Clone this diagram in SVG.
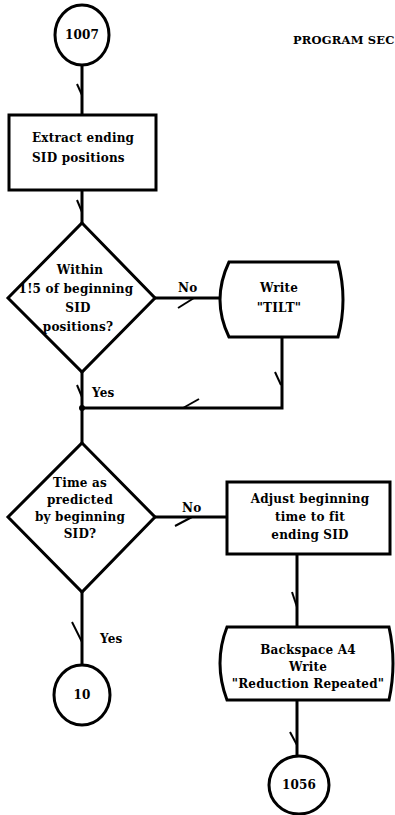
<svg xmlns="http://www.w3.org/2000/svg" width="395" height="815" viewBox="0 0 395 815">
<style>
.s{fill:#fff;stroke:#000;stroke-width:3}
.c{fill:none;stroke:#000;stroke-width:3}
.b{fill:none;stroke:#000;stroke-width:2}
text{font-family:"DejaVu Serif","Liberation Serif",serif;font-weight:bold;font-size:12px;letter-spacing:0.2px;fill:#000}
.m{text-anchor:middle}
</style>
<rect width="395" height="815" fill="#fff"/>
<text x="293" y="44" style="font-size:11.5px">PROGRAM SEC</text>
<g id="connectors">
<path class="c" d="M82,65 V115"/><path class="b" d="M77,84 L82,95"/>
<path class="c" d="M82,190 V223"/><path class="b" d="M77,200 L82,212"/>
<path class="c" d="M155,298 H220"/><path class="b" d="M178,308 L194,298"/>
<path class="c" d="M282,337 V408 H82"/><path class="b" d="M275,372 L281,385"/><path class="b" d="M183,408 L199,399"/>
<path class="c" d="M82,372 V443"/><path class="b" d="M77,385 L82,397"/>
<circle cx="82" cy="408" r="3"/>
<path class="c" d="M155,517 H227"/><path class="b" d="M175,526 L192,517"/>
<path class="c" d="M297,554 V627"/><path class="b" d="M292,592 L297,607"/>
<path class="c" d="M297,700 V755"/><path class="b" d="M290,732 L297,745"/>
<path class="c" d="M82,592 V665"/><path class="b" d="M72,622 L82,642"/>
<text x="92" y="397">Yes</text>
<text x="100" y="643">Yes</text>
<text x="178" y="292">No</text>
<text x="182" y="512">No</text>
</g>
<g id="n1007"><ellipse class="s" cx="82" cy="35" rx="27" ry="30"/><text class="m" x="82" y="39">1007</text></g>
<g id="extract"><rect class="s" x="9" y="115" width="147" height="75"/><text x="32" y="142">Extract ending</text><text x="32" y="162">SID positions</text></g>
<g id="within"><path class="s" d="M82,223 L155,298 L82,372 L8,298 Z"/>
<text class="m" x="80" y="274">Within</text><text class="m" x="76" y="293">1!5 of beginning</text><text class="m" x="78" y="312">SID</text><text class="m" x="78" y="331">positions?</text></g>
<g id="tilt"><path class="s" d="M229,262 H338 Q348,300 338,337 H229 Q211,300 229,262 Z"/><text class="m" x="279" y="292">Write</text><text class="m" x="279" y="312">"TILT"</text></g>
<g id="timeas"><path class="s" d="M82,443 L155,517 L82,592 L8,517 Z"/>
<text class="m" x="80" y="487">Time as</text><text class="m" x="80" y="504">predicted</text><text class="m" x="80" y="521">by beginning</text><text class="m" x="80" y="538">SID?</text></g>
<g id="adjust"><rect class="s" x="227" y="482" width="163" height="72"/><text class="m" x="310" y="503">Adjust beginning</text><text class="m" x="310" y="521">time to fit</text><text class="m" x="310" y="539">ending SID</text></g>
<g id="backspace"><path class="s" d="M227,627 H389 Q397,663 389,700 H227 Q213,663 227,627 Z"/><text class="m" x="308" y="654">Backspace A4</text><text class="m" x="308" y="671">Write</text><text class="m" x="308" y="688">"Reduction Repeated"</text></g>
<g id="n10"><ellipse class="s" cx="82" cy="695" rx="28" ry="30"/><text class="m" x="82" y="699">10</text></g>
<g id="n1056"><ellipse class="s" cx="299" cy="785" rx="30" ry="29"/><text class="m" x="299" y="789">1056</text></g>
</svg>
